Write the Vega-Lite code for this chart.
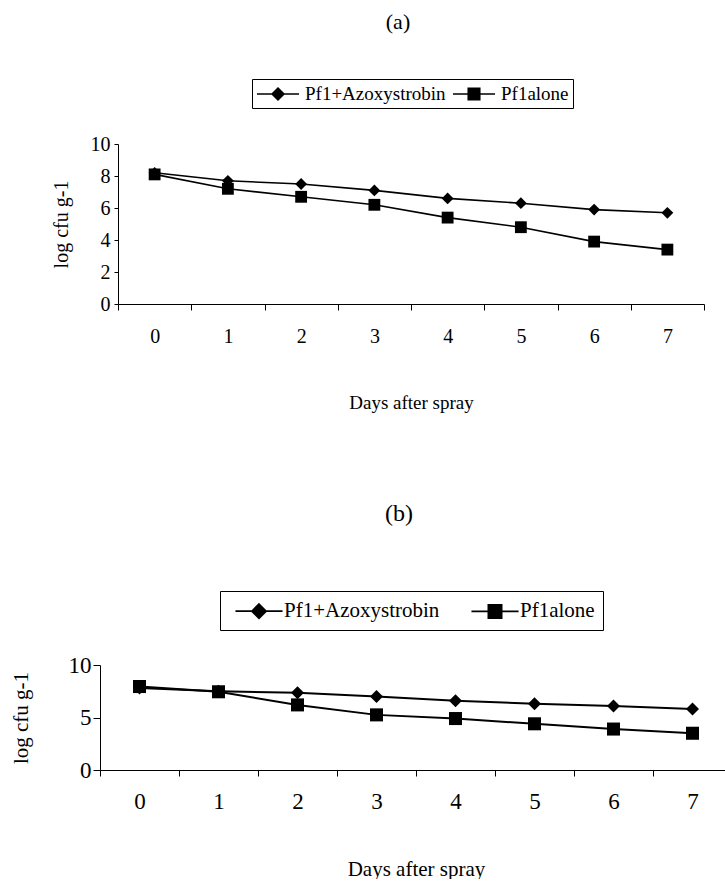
{
  "$schema": "https://vega.github.io/schema/vega-lite/v6.json",
  "padding": {"left": 10, "top": 10, "right": 0, "bottom": 0},
  "background": "white",
  "config": {
    "view": {"stroke": null},
    "font": "Liberation Serif",
    "axis": {"domainColor": "black", "tickColor": "black", "labelColor": "black", "titleColor": "black", "grid": false, "labelFont": "Liberation Serif", "titleFont": "Liberation Serif", "titleFontWeight": "normal", "domainWidth": 1, "tickWidth": 1},
    "legend": {"labelFont": "Liberation Serif", "labelColor": "black"},
    "title": {"font": "Liberation Serif", "fontWeight": "normal", "color": "black"}
  },
  "datasets": {
    "a": [
      {"day": "0", "series": "Pf1+Azoxystrobin", "log": 8.2},
      {"day": "1", "series": "Pf1+Azoxystrobin", "log": 7.7},
      {"day": "2", "series": "Pf1+Azoxystrobin", "log": 7.5},
      {"day": "3", "series": "Pf1+Azoxystrobin", "log": 7.1},
      {"day": "4", "series": "Pf1+Azoxystrobin", "log": 6.6},
      {"day": "5", "series": "Pf1+Azoxystrobin", "log": 6.3},
      {"day": "6", "series": "Pf1+Azoxystrobin", "log": 5.9},
      {"day": "7", "series": "Pf1+Azoxystrobin", "log": 5.7},
      {"day": "0", "series": "Pf1alone", "log": 8.1},
      {"day": "1", "series": "Pf1alone", "log": 7.2},
      {"day": "2", "series": "Pf1alone", "log": 6.7},
      {"day": "3", "series": "Pf1alone", "log": 6.2},
      {"day": "4", "series": "Pf1alone", "log": 5.4},
      {"day": "5", "series": "Pf1alone", "log": 4.8},
      {"day": "6", "series": "Pf1alone", "log": 3.9},
      {"day": "7", "series": "Pf1alone", "log": 3.4}
    ],
    "b": [
      {"day": "0", "series": "Pf1+Azoxystrobin", "log": 7.8},
      {"day": "1", "series": "Pf1+Azoxystrobin", "log": 7.5},
      {"day": "2", "series": "Pf1+Azoxystrobin", "log": 7.35},
      {"day": "3", "series": "Pf1+Azoxystrobin", "log": 7.0},
      {"day": "4", "series": "Pf1+Azoxystrobin", "log": 6.6},
      {"day": "5", "series": "Pf1+Azoxystrobin", "log": 6.3},
      {"day": "6", "series": "Pf1+Azoxystrobin", "log": 6.1},
      {"day": "7", "series": "Pf1+Azoxystrobin", "log": 5.8},
      {"day": "0", "series": "Pf1alone", "log": 7.95},
      {"day": "1", "series": "Pf1alone", "log": 7.45},
      {"day": "2", "series": "Pf1alone", "log": 6.2},
      {"day": "3", "series": "Pf1alone", "log": 5.25},
      {"day": "4", "series": "Pf1alone", "log": 4.9},
      {"day": "5", "series": "Pf1alone", "log": 4.4},
      {"day": "6", "series": "Pf1alone", "log": 3.9},
      {"day": "7", "series": "Pf1alone", "log": 3.5}
    ]
  },
  "vconcat": [
    {
      "data": {"name": "a"},
      "width": 604,
      "height": 160,
      "title": {"text": "(a)", "fontSize": 22, "offset": 45, "dx": -4},
      "encoding": {
        "x": {"field": "day", "type": "ordinal", "scale": {"type": "band", "range": [18, 604], "paddingInner": 0, "paddingOuter": 0},
          "axis": {"title": "Days after spray", "labelAngle": 0, "labelFontSize": 20, "titleFontSize": 19, "tickBand": "extent", "tickSize": 6, "labelPadding": 16, "titlePadding": 47}},
        "y": {"field": "log", "type": "quantitative", "scale": {"domain": [0, 10]},
          "axis": {"title": "log cfu g-1", "values": [0, 2, 4, 6, 8, 10], "offset": -18, "labelFontSize": 20, "titleFontSize": 20, "tickSize": 4, "labelPadding": 4, "titlePadding": 19}}
      },
      "layer": [
        {"mark": {"type": "line", "color": "black", "strokeWidth": 1.6}, "encoding": {"detail": {"field": "series"}}},
        {"mark": {"type": "point", "filled": true, "color": "black", "opacity": 1},
          "encoding": {
            "shape": {"field": "series", "type": "nominal", "scale": {"domain": ["Pf1+Azoxystrobin", "Pf1alone"], "range": ["diamond", "square"]}, "legend": null},
            "size": {"value": 140}
          }},
        {"transform": [{"filter": "datum.log < 0"}],
          "mark": {"type": "point", "filled": false, "color": "black", "strokeWidth": 1.5, "opacity": 1},
          "encoding": {
            "shape": {"field": "series", "type": "nominal",
              "scale": {"domain": ["Pf1+Azoxystrobin", "Pf1alone"], "range": [
                "M-2.1,0H2.1M0,-0.6L0.6,0L0,0.6L-0.6,0ZM0,-0.45L0.45,0L0,0.45L-0.45,0ZM0,-0.3L0.3,0L0,0.3L-0.3,0ZM0,-0.15L0.15,0L0,0.15L-0.15,0ZM0,-0.5V0.5",
                "M-2.1,0H2.1M-0.58,-0.58H0.58V0.58H-0.58ZM-0.46,-0.46H0.46V0.46H-0.46ZM-0.34,-0.34H0.34V0.34H-0.34ZM-0.22,-0.22H0.22V0.22H-0.22ZM-0.1,-0.1H0.1V0.1H-0.1Z"]},
              "legend": {"title": null, "orient": "none", "legendX": 152, "legendY": -65, "direction": "horizontal", "strokeColor": "black", "padding": 4, "labelFont": "Liberation Serif", "labelFontSize": 19, "labelColor": "black", "symbolSize": 400, "symbolStrokeWidth": 1.5, "symbolStrokeColor": "black", "symbolOpacity": 1, "symbolOffset": 11, "columnPadding": 4, "labelOffset": 16}}
          }}
      ],
      "resolve": {"scale": {"shape": "independent"}}
    },
    {
      "data": {"name": "b"},
      "width": 632,
      "height": 105,
      "title": {"text": "(b)", "fontSize": 24, "offset": 65, "dx": -17},
      "encoding": {
        "x": {"field": "day", "type": "ordinal", "scale": {"type": "band", "paddingInner": 0, "paddingOuter": 0},
          "axis": {"title": "Days after spray", "labelAngle": 0, "labelFontSize": 23, "titleFontSize": 21, "tickBand": "extent", "tickSize": 6, "labelPadding": 14, "titlePadding": 45}},
        "y": {"field": "log", "type": "quantitative", "scale": {"domain": [0, 10]},
          "axis": {"title": "log cfu g-1", "values": [0, 5, 10], "labelFontSize": 23, "titleFontSize": 21, "tickSize": 7, "labelPadding": 2, "titlePadding": 37}}
      },
      "layer": [
        {"mark": {"type": "line", "color": "black", "strokeWidth": 2}, "encoding": {"detail": {"field": "series"}}},
        {"mark": {"type": "point", "filled": true, "color": "black", "opacity": 1},
          "encoding": {
            "shape": {"field": "series", "type": "nominal", "scale": {"domain": ["Pf1+Azoxystrobin", "Pf1alone"], "range": ["diamond", "square"]}, "legend": null},
            "size": {"value": 170}
          }},
        {"transform": [{"filter": "datum.log < 0"}],
          "mark": {"type": "point", "filled": false, "color": "black", "strokeWidth": 1.8, "opacity": 1},
          "encoding": {
            "shape": {"field": "series", "type": "nominal",
              "scale": {"domain": ["Pf1+Azoxystrobin", "Pf1alone"], "range": [
                "M-2.14,0H2.14M0,-0.64L0.64,0L0,0.64L-0.64,0ZM0,-0.5L0.5,0L0,0.5L-0.5,0ZM0,-0.36L0.36,0L0,0.36L-0.36,0ZM0,-0.22L0.22,0L0,0.22L-0.22,0ZM0,-0.1L0.1,0L0,0.1L-0.1,0ZM0,-0.5V0.5",
                "M-2.14,0H2.14M-0.6,-0.6H0.6V0.6H-0.6ZM-0.48,-0.48H0.48V0.48H-0.48ZM-0.36,-0.36H0.36V0.36H-0.36ZM-0.24,-0.24H0.24V0.24H-0.24ZM-0.12,-0.12H0.12V0.12H-0.12Z"]},
              "legend": {"title": null, "orient": "none", "legendX": 120, "legendY": -74, "direction": "horizontal", "strokeColor": "black", "padding": 8, "labelFont": "Liberation Serif", "labelFontSize": 21, "labelColor": "black", "symbolSize": 484, "symbolStrokeWidth": 1.8, "symbolStrokeColor": "black", "symbolOpacity": 1, "symbolOffset": 19, "columnPadding": 24, "labelOffset": 13}}
          }}
      ],
      "resolve": {"scale": {"shape": "independent"}}
    }
  ],
  "resolve": {"scale": {"shape": "independent", "x": "independent", "y": "independent"}},
  "spacing": 89
}
